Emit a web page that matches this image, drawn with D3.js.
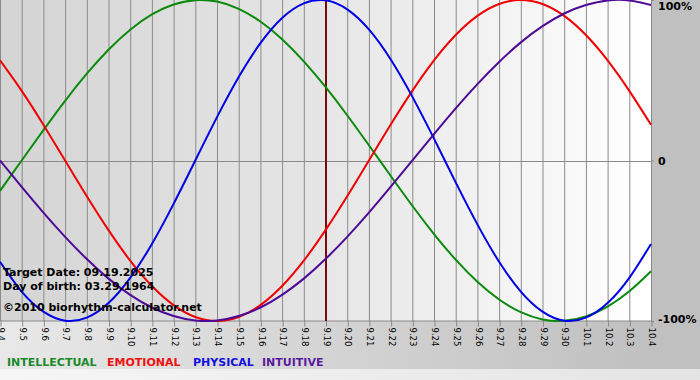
<!DOCTYPE html>
<html><head><meta charset="utf-8">
<script src="https://cdn.jsdelivr.net/npm/d3@7"></script>
<style>
html,body{margin:0;padding:0;background:#fff;}
svg{display:block;}
</style></head>
<body>
<svg id="chart" width="700" height="380"></svg>
<script>
// ---- data ----
const days = ["9.4","9.5","9.6","9.7","9.8","9.9","9.10","9.11","9.12","9.13","9.14","9.15","9.16","9.17","9.18","9.19","9.20","9.21","9.22","9.23","9.24","9.25","9.26","9.27","9.28","9.29","9.30","10.1","10.2","10.3","10.4"];
const intellectual = [-0.189,0,0.189,0.372,0.541,0.690,0.815,0.910,0.972,0.999,0.990,0.945,0.866,0.756,0.618,0.458,0.282,0.095,-0.095,-0.282,-0.458,-0.618,-0.756,-0.866,-0.945,-0.990,-0.999,-0.972,-0.910,-0.815,-0.690];
const emotional = [0.624,0.434,0.223,0,-0.223,-0.434,-0.624,-0.782,-0.901,-0.975,-1,-0.975,-0.901,-0.782,-0.624,-0.434,-0.223,0,0.223,0.434,0.624,0.782,0.901,0.975,1,0.975,0.901,0.782,0.624,0.434,0.223];
const physical = [-0.631,-0.817,-0.942,-0.998,-0.979,-0.888,-0.731,-0.520,-0.270,0,0.270,0.520,0.731,0.888,0.979,0.998,0.942,0.817,0.631,0.398,0.136,-0.136,-0.398,-0.631,-0.817,-0.942,-0.998,-0.979,-0.888,-0.731,-0.520];
const intuitive = [0,-0.165,-0.325,-0.476,-0.614,-0.736,-0.837,-0.916,-0.969,-0.997,-0.997,-0.969,-0.916,-0.837,-0.736,-0.614,-0.476,-0.325,-0.165,0,0.165,0.325,0.476,0.614,0.736,0.837,0.916,0.969,0.997,0.997,0.969];
const seriesNames = ["INTELLECTUAL","EMOTIONAL","PHYSICAL","INTUITIVE"];
const yTicks = [1, 0, -1];
const yTickLabels = ["100%", "0", "-100%"];
const targetDay = "9.19";
const infoLines = ["Target Date: 09.19.2025", "Day of birth: 03.29.1964", "\u00A92010 biorhythm-calculator.net"];

// ---- layout ----
const W = 700, H = 380;
const plot = {l: 0, t: 0, r: 651, b: 321};
const colors = ["#0a8a0a", "#f00000", "#0000e6", "#4e0a96"];
const legendColors = ["#1a8a2a", "#f01010", "#1010e0", "#5a1aa0"];
const svg = d3.select("#chart");
const defs = svg.append("defs");

const gPlot = defs.append("linearGradient").attr("id","gplot").attr("x1","0").attr("x2","1").attr("y1","0").attr("y2","0");
gPlot.append("stop").attr("offset","0").attr("stop-color","#d4d4d4");
gPlot.append("stop").attr("offset","0.5").attr("stop-color","#e6e6e6");
gPlot.append("stop").attr("offset","1").attr("stop-color","#ffffff");

const gBot = defs.append("linearGradient").attr("id","gbot").attr("x1","0").attr("x2","1").attr("y1","0").attr("y2","0");
gBot.append("stop").attr("offset","0").attr("stop-color","#e8e8e8");
gBot.append("stop").attr("offset","0.93").attr("stop-color","#c0c0c0");
gBot.append("stop").attr("offset","1").attr("stop-color","#c0c0c0");

const gStrip = defs.append("linearGradient").attr("id","gstrip").attr("x1","0").attr("x2","1").attr("y1","0").attr("y2","0");
gStrip.append("stop").attr("offset","0").attr("stop-color","#f6f6f6");
gStrip.append("stop").attr("offset","1").attr("stop-color","#e4e4e4");

// backgrounds
svg.append("rect").attr("x",0).attr("y",0).attr("width",W).attr("height",H).attr("fill","#c0c0c0");
svg.append("rect").attr("x",0).attr("y",plot.b).attr("width",W).attr("height",369-plot.b).attr("fill","url(#gbot)");
svg.append("rect").attr("x",0).attr("y",369).attr("width",W).attr("height",H-369).attr("fill","url(#gstrip)");
svg.append("rect").attr("x",plot.l).attr("y",plot.t).attr("width",plot.r-plot.l).attr("height",plot.b-plot.t).attr("fill","url(#gplot)");

// scales
const x = d3.scalePoint().domain(days).range([plot.l, plot.r]);
const y = d3.scaleLinear().domain([-1, 1]).range([plot.b, plot.t]);

// vertical grid lines
svg.append("g").selectAll("line").data(days).join("line")
  .attr("x1", d => x(d) + 0.5).attr("x2", d => x(d) + 0.5)
  .attr("y1", plot.t).attr("y2", plot.b)
  .attr("stroke", "#8a8a8a").attr("stroke-width", 1);

// bottom axis
const xAxis = d3.axisBottom(x).tickSize(6).tickSizeOuter(0);
const gx = svg.append("g").attr("transform", `translate(0.5,${plot.b - 0.5})`).call(xAxis);
gx.select(".domain").attr("stroke","#8a8a8a");
gx.selectAll(".tick line").attr("stroke","#8a8a8a");
gx.selectAll(".tick text")
  .attr("font-family","'DejaVu Sans', Verdana, sans-serif").attr("font-size", 8.5).attr("fill","#000")
  .attr("transform","rotate(90)").attr("text-anchor","start")
  .attr("x", 7).attr("y", 0).attr("dy","0.33em");

// zero line + right axis
const yAxis = d3.axisRight(y).tickValues(yTicks).tickFormat((d,i) => yTickLabels[i]).tickSize(3).tickSizeOuter(0);
svg.append("line").attr("x1", plot.l).attr("x2", plot.r).attr("y1", Math.round(y(0)) + 0.5).attr("y2", Math.round(y(0)) + 0.5)
  .attr("stroke","#8a8a8a");
const gy = svg.append("g").attr("transform", `translate(${plot.r},0)`).call(yAxis);
gy.select(".domain").remove();
gy.selectAll(".tick line").attr("stroke","#8a8a8a");
gy.selectAll(".tick text").attr("font-family","'DejaVu Sans', Verdana, sans-serif").attr("font-weight","bold")
  .attr("font-size", 11).attr("fill","#000").attr("x", 7);
gy.selectAll(".tick").filter(d => d === 1).select("text").attr("dy","0.9em");
gy.selectAll(".tick").filter(d => d === -1).select("text").attr("dy","0.15em");

// target line
svg.append("line").attr("x1", x(targetDay) + 0.5).attr("x2", x(targetDay) + 0.5)
  .attr("y1", plot.t).attr("y2", plot.b).attr("stroke", "#7a0a0a").attr("stroke-width", 2);

// curves
const allSeries = [intellectual, emotional, physical, intuitive];
const line = d3.line().x((d,i) => x(days[i])).y(d => y(d)).curve(d3.curveNatural);
svg.append("g").selectAll("path").data(allSeries).join("path")
  .attr("d", d => line(d)).attr("fill","none")
  .attr("stroke", (d,i) => colors[i]).attr("stroke-width", 2);

// info text
const infoY = [276, 290, 311];
svg.append("g").selectAll("text").data(infoLines).join("text")
  .attr("x", 3).attr("y", (d,i) => infoY[i]).text(d => d)
  .attr("font-family","'DejaVu Sans', Verdana, sans-serif").attr("font-weight","bold").attr("font-size", 11).attr("fill","#000");

// legend
const legendX = [7, 107, 193, 262];
svg.append("g").selectAll("text").data(seriesNames).join("text")
  .attr("x", (d,i) => legendX[i]).attr("y", 366).text(d => d)
  .attr("font-family","'DejaVu Sans', Verdana, sans-serif").attr("font-weight","bold").attr("font-size", 11)
  .attr("fill", (d,i) => legendColors[i]);
</script>
</body></html>
